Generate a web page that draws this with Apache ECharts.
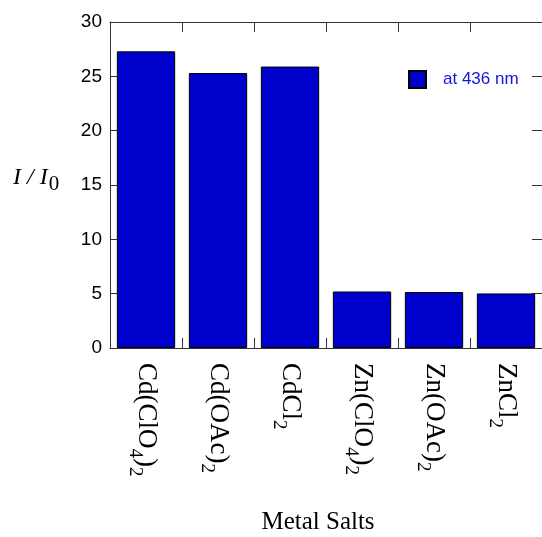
<!DOCTYPE html>
<html>
<head>
<meta charset="utf-8">
<style>
  html, body { margin: 0; padding: 0; background: #fff; }
  #chart { width: 542px; height: 537px; }
</style>
<script src="https://cdn.jsdelivr.net/npm/echarts@6/dist/echarts.min.js"></script>
</head>
<body>
<div id="chart"></div>
<script>
// metal salts, subscripts are written as plain digits and turned into rich text below
var salts = ['Cd(ClO4)2', 'Cd(OAc)2', 'CdCl2', 'Zn(ClO4)2', 'Zn(OAc)2', 'ZnCl2'];
var ratio436 = [27.3, 25.3, 25.9, 5.2, 5.15, 5.02];
var yTicks = [0, 5, 10, 15, 20, 25, 30];

var chart = echarts.init(document.getElementById('chart'));
var axisColor = '#333';
var serif = '"Liberation Serif", "DejaVu Serif", serif';
var sans = '"Liberation Sans", Arial, sans-serif';

function subLabel(name) {
    return name.replace(/(\d)/g, '{sub|$1}');
}

function tick() {
    return { show: true, inside: true, interval: 0, length: 10, lineStyle: { color: axisColor, width: 1 } };
}
function line() {
    return { show: true, onZero: false, lineStyle: { color: axisColor, width: 1 } };
}

var option = {
    animation: false,
    backgroundColor: '#fff',
    grid: { left: 110, width: 435, top: 22, bottom: 189 },
    legend: {
        data: ['at 436 nm'],
        left: 403,
        top: 65,
        icon: 'rect',
        itemWidth: 17,
        itemHeight: 17,
        textStyle: {
            color: '#1414e0',
            fontSize: 17,
            fontFamily: sans,
            padding: [0, 0, 0, 12]
        }
    },
    xAxis: [{
        type: 'category',
        data: salts,
        position: 'bottom',
        axisLine: line(),
        axisTick: tick(),
        axisLabel: {
            interval: 0,
            rotate: -90,
            margin: 15,
            color: '#000',
            fontFamily: serif,
            fontSize: 27,
            formatter: subLabel,
            rich: {
                sub: { fontFamily: serif, fontSize: 19, color: '#000', padding: [22, 0, 0, 0] }
            }
        }
    }, {
        type: 'category',
        data: salts,
        position: 'top',
        axisLine: line(),
        axisTick: tick(),
        axisLabel: { show: false, interval: 0 }
    }],
    yAxis: [{
        type: 'value',
        min: yTicks[0],
        max: yTicks[yTicks.length - 1],
        interval: 5,
        position: 'left',
        splitLine: { show: false },
        axisLine: line(),
        axisTick: { show: true, inside: true, length: 10, lineStyle: { color: axisColor, width: 1 } },
        axisLabel: {
            margin: 8,
            color: '#000',
            fontSize: 19,
            fontFamily: sans
        }
    }, {
        type: 'value',
        min: yTicks[0],
        max: yTicks[yTicks.length - 1],
        interval: 5,
        position: 'right',
        splitLine: { show: false },
        axisLine: line(),
        axisTick: { show: true, inside: true, length: 10, lineStyle: { color: axisColor, width: 1 } },
        axisLabel: { show: false }
    }],
    graphic: [{
        type: 'text',
        left: 13,
        top: 166,
        style: {
            text: '{i|I / I}{s|0}',
            rich: {
                i: { fontFamily: serif, fontStyle: 'italic', fontSize: 24, fill: '#000' },
                s: { fontFamily: serif, fontSize: 21, fill: '#000', padding: [12, 0, 0, 1] }
            }
        }
    }, {
        type: 'text',
        x: 318,
        y: 522,
        style: {
            text: 'Metal Salts',
            fontFamily: serif,
            fontSize: 25,
            fill: '#000',
            textAlign: 'center',
            textVerticalAlign: 'middle'
        }
    }],
    series: [{
        name: 'at 436 nm',
        type: 'bar',
        data: ratio436,
        barCategoryGap: '19%',
        itemStyle: { color: '#0000cc', borderColor: '#000', borderWidth: 1 }
    }]
};

chart.setOption(option);
</script>
</body>
</html>
